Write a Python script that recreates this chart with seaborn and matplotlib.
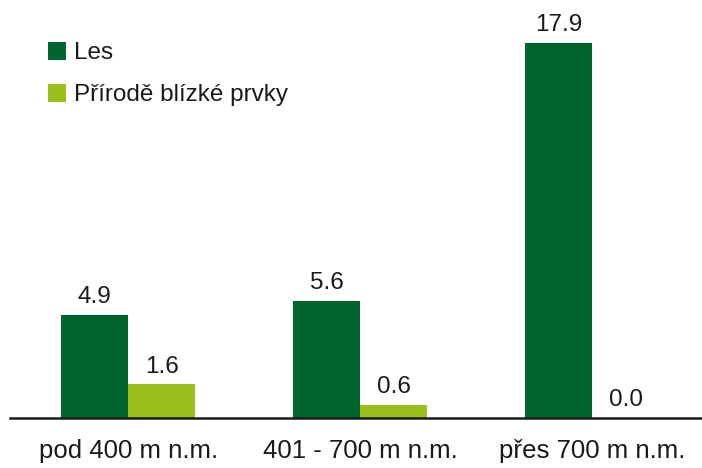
import matplotlib
matplotlib.use("Agg")
import matplotlib.pyplot as plt
import seaborn as sns
import pandas as pd

categories = ["pod 400 m n.m.", "401 - 700 m n.m.", "přes 700 m n.m."]
series_names = ["Les", "Přírodě blízké prvky"]
les = [4.9, 5.6, 17.9]
prvky = [1.6, 0.6, 0.0]

df = pd.DataFrame({
    "cat": categories * 2,
    "series": [series_names[0]] * 3 + [series_names[1]] * 3,
    "value": les + prvky,
})

sns.set_theme(style="white")
plt.rcParams["font.family"] = ["Liberation Sans", "DejaVu Sans"]

W, H = 702, 468
fig = plt.figure(figsize=(W / 100, H / 100), dpi=100)
ax = fig.add_axes([10 / W, 50 / H, 692 / W, 418 / H])

colors = ["#00652e", "#99c01a"]
FS = 17.5
sns.barplot(data=df, x="cat", y="value", hue="series", order=categories,
            hue_order=series_names, palette=colors, width=0.578,
            saturation=1, ax=ax, legend=False, linewidth=0)

ax.set_xlim(-0.509, 2.474)
ax.set_ylim(0, 418 / 20.95)

for cont in ax.containers:
    labels = [f"{v:.1f}" for v in cont.datavalues]
    ax.bar_label(cont, labels=labels, padding=5, fontsize=FS, color="#1a1a1a")

for s in ["top", "right", "left"]:
    ax.spines[s].set_visible(False)
ax.spines["bottom"].set_color("#1a1a1a")
ax.spines["bottom"].set_linewidth(1.8)
ax.set_yticks([])
ax.set_xlabel("")
ax.set_ylabel("")
ax.tick_params(axis="x", length=0, pad=15, labelsize=18.5, labelcolor="#1a1a1a")

from matplotlib.patches import Patch
handles = [Patch(facecolor=c, edgecolor="none") for c in colors]
fig.legend(handles, series_names, loc="upper left", bbox_to_anchor=(48 / W, 1 - 42 / H),
           frameon=False, fontsize=FS, handlelength=0.75, handleheight=0.75,
           handletextpad=0.3, labelspacing=0.8, borderaxespad=0, borderpad=0,
           labelcolor="#1a1a1a")

fig.savefig("out.png", dpi=100, facecolor="white")
